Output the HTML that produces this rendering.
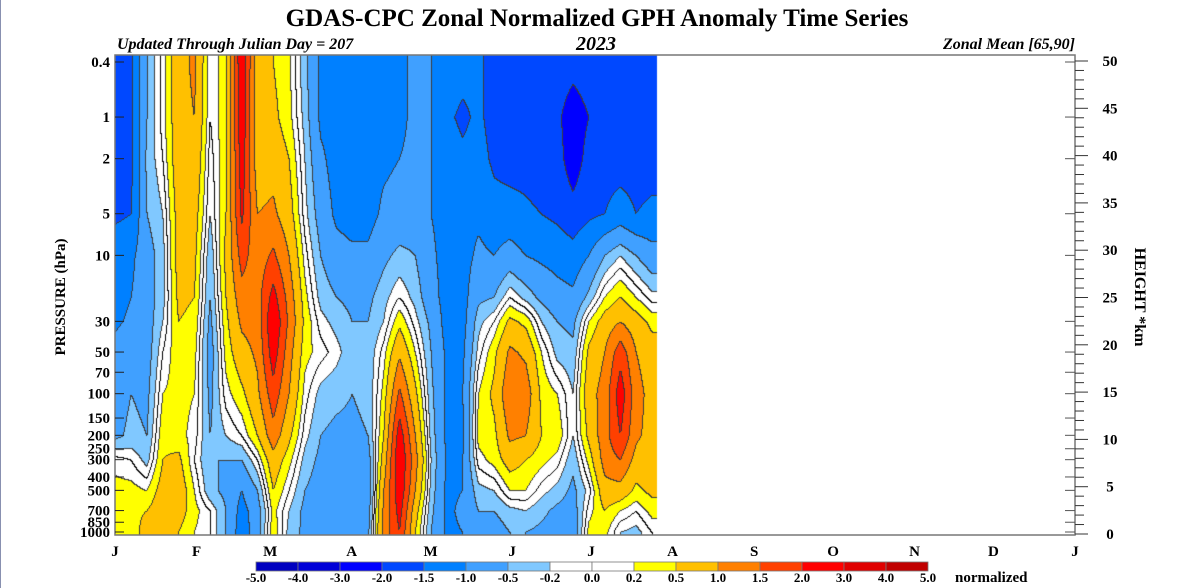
<!DOCTYPE html>
<html><head><meta charset="utf-8">
<style>
html,body{margin:0;padding:0;background:#fff;}
#wrap{position:relative;width:1183px;height:588px;overflow:hidden;font-family:"Liberation Serif",serif;}
canvas,svg{position:absolute;left:0;top:0;}
</style></head>
<body>
<div id="wrap">
<canvas id="cv" width="1183" height="588"></canvas>
<svg id="sv" width="1183" height="588" xmlns="http://www.w3.org/2000/svg">
<line x1="0.5" y1="0" x2="0.5" y2="588" stroke="#8890b0" stroke-width="1"/>
<text x="597" y="26" text-anchor="middle" font-size="25" font-weight="bold">GDAS-CPC Zonal Normalized GPH Anomaly Time Series</text>
<text x="117" y="49" font-size="16" font-weight="bold" font-style="italic">Updated Through Julian Day = 207</text>
<text x="596" y="50" text-anchor="middle" font-size="20" font-weight="bold" font-style="italic">2023</text>
<text x="1075" y="49" text-anchor="end" font-size="16" font-weight="bold" font-style="italic">Zonal Mean [65,90]</text>
<text transform="translate(65,297) rotate(-90)" text-anchor="middle" font-size="15" font-weight="bold">PRESSURE (hPa)</text>
<text transform="translate(1135,297) rotate(90)" text-anchor="middle" font-size="16" font-weight="bold">HEIGHT *km</text>
<text x="955" y="582" font-size="15" font-weight="bold">normalized</text>
<g id="axes"></g>
</svg>
</div>
<script>
// ---- chart data ----
const days = [1,7,13,19,25,31,37,43,49,55,61,67,73,79,85,91,97,103,109,115,121,127,133,139,145,151,157,163,169,175,181,187,193,199,205];
const levels = [0.4,1,2,5,10,20,30,50,100,200,300,500,700,1000];
const pressureTicks = [0.4,1,2,5,10,30,50,70,100,150,200,250,300,400,500,700,850,1000];
const pressureLabels = ["0.4","1","2","5","10","30","50","70","100","150","200","250","300","400","500","700","850","1000"];
const heightTicks = [0,5,10,15,20,25,30,35,40,45,50];
const monthLabels = ["J","F","M","A","M","J","J","A","S","O","N","D","J"];
const monthDays = [1,32,60,91,121,152,182,213,244,274,305,335,366];
const bandEdges = [-5,-4,-3,-2,-1.5,-1,-0.5,-0.2,0,0.2,0.5,1,1.5,2,3,4,5];
const edgeLabels = ["-5.0","-4.0","-3.0","-2.0","-1.5","-1.0","-0.5","-0.2","0.0","0.2","0.5","1.0","1.5","2.0","3.0","4.0","5.0"];
// anomaly per time column, top (0.4 hPa) to bottom (1000 hPa)
const anomaly = [
[-1.7,-1.7,-1.7,-1.6,-1.2,-1.2,-1.1,-0.8,-0.7,-0.6,0.1,0.3,0.3,0.3],
[-1.6,-1.6,-1.6,-1.5,-1.1,-1.0,-0.9,-0.6,-0.5,-0.4,0.0,0.3,0.4,0.3],
[-0.5,-0.5,-0.4,-0.5,-0.7,-0.7,-0.7,-0.7,-0.6,-0.5,-0.3,0.2,0.5,0.7],
[0.1,0.1,0.0,-0.2,-0.3,-0.3,-0.2,0.0,0.2,0.4,0.5,0.7,0.8,0.7],
[0.8,0.8,0.8,0.7,0.7,0.6,0.5,0.4,0.3,0.3,0.6,0.8,0.7,0.5],
[1.1,1.0,0.9,0.7,0.6,0.5,0.4,0.3,0.2,0.1,0.0,0.2,0.3,0.2],
[0.0,0.0,-0.1,-0.2,-0.4,-0.5,-0.6,-0.7,-0.6,-0.5,-0.5,-0.4,0.0,0.0],
[0.4,0.4,0.4,0.5,0.6,0.5,0.4,0.3,0.1,-0.2,-0.5,-0.6,-0.5,-0.5],
[2.5,2.4,2.3,2.1,1.7,1.3,1.1,0.8,0.4,0.0,-0.5,-1.0,-1.2,-1.3],
[0.6,0.6,0.7,1.0,1.2,1.3,1.2,1.1,0.9,0.5,0.0,-0.5,-0.7,-0.7],
[0.5,0.6,0.8,1.1,1.6,2.2,2.5,2.3,1.8,1.3,0.8,0.5,0.3,0.4],
[0.25,0.3,0.5,0.7,1.0,1.3,1.4,1.2,1.0,0.6,0.3,0.0,-0.2,-0.3],
[-0.4,-0.3,-0.2,-0.1,0.1,0.3,0.4,0.3,0.1,-0.1,-0.3,-0.5,-0.6,-0.6],
[-1.1,-1.1,-0.9,-0.7,-0.5,-0.3,-0.1,0.1,-0.3,-0.5,-0.6,-0.7,-0.7,-0.7],
[-1.2,-1.2,-1.2,-1.1,-0.8,-0.5,-0.3,-0.1,-0.4,-0.6,-0.7,-0.8,-0.9,-0.8],
[-1.2,-1.2,-1.2,-1.2,-0.9,-0.6,-0.5,-0.4,-0.5,-0.6,-0.8,-0.9,-1.0,-0.9],
[-1.2,-1.2,-1.2,-1.2,-0.9,-0.6,-0.5,-0.4,-0.4,-0.5,-0.7,-0.8,-0.7,-0.6],
[-1.2,-1.2,-1.1,-0.9,-0.6,-0.3,-0.2,0.1,0.3,0.5,0.7,1.0,1.1,1.2],
[-1.2,-1.2,-1.0,-0.8,-0.4,0.0,0.4,0.9,1.6,2.3,2.5,2.4,2.2,2.0],
[-0.8,-0.8,-0.8,-0.7,-0.5,-0.3,-0.1,0.2,0.6,1.0,1.2,1.0,0.7,0.5],
[-1.0,-1.0,-1.0,-1.0,-0.9,-0.8,-0.6,-0.5,-0.4,-0.3,-0.2,-0.3,-0.4,-0.5],
[-1.2,-1.4,-1.2,-1.2,-1.2,-1.2,-1.2,-1.1,-1.1,-1.1,-1.1,-1.1,-1.1,-1.1],
[-1.3,-1.6,-1.4,-1.2,-1.2,-1.2,-1.2,-1.1,-1.0,-1.1,-1.0,-1.0,-0.9,-1.0],
[-1.4,-1.4,-1.3,-1.1,-0.9,-0.6,-0.3,-0.1,0.2,0.3,0.1,-0.3,-0.5,-0.6],
[-1.7,-1.7,-1.6,-1.3,-1.0,-0.5,0.0,0.4,0.6,0.4,0.3,-0.2,-0.5,-0.7],
[-1.7,-1.8,-1.7,-1.3,-0.8,0.0,0.6,1.1,1.4,1.1,0.7,0.2,-0.3,-0.5],
[-1.7,-1.8,-1.7,-1.4,-1.0,-0.3,0.4,0.9,1.3,1.0,0.5,0.2,-0.2,-0.5],
[-1.7,-1.9,-1.8,-1.5,-1.1,-0.6,-0.2,0.2,0.4,0.5,0.3,-0.1,-0.4,-0.6],
[-1.7,-1.9,-1.8,-1.6,-1.2,-0.8,-0.5,-0.3,0.2,0.4,0.1,-0.3,-0.6,-0.7],
[-1.8,-2.3,-2.3,-1.8,-1.3,-0.9,-0.6,-0.4,-0.2,-0.2,-0.4,-0.6,-0.7,-0.8],
[-1.7,-2.0,-1.8,-1.6,-1.0,-0.4,0.2,0.6,0.8,0.6,0.3,-0.1,0.1,0.3],
[-1.7,-1.8,-1.7,-1.5,-0.5,0.2,0.7,1.0,1.2,1.3,1.2,0.8,0.5,0.3],
[-1.7,-1.7,-1.7,-1.3,-0.2,0.5,1.0,1.8,2.3,2.0,1.5,0.8,0.2,-0.2],
[-1.8,-2.0,-1.7,-1.5,-0.5,0.2,0.7,1.0,1.2,1.1,0.8,0.4,0.0,-0.3],
[-1.7,-2.0,-1.7,-1.4,-0.8,-0.1,0.4,0.7,0.8,0.8,0.8,0.6,0.3,0.0]
];
const lastDay = 207;
const bandColors = ["#0000c0","#0000d8","#0000ff","#0048ff","#0080ff","#40a0ff","#80c8ff","#ffffff","#ffffff","#ffff00","#ffc000","#ff8000","#ff4000","#ff0000","#e00000","#c00000"];

// ---- scales ----
const X0=115, X1=1075, Y0=55, Y1=535;
function xDay(d){return X0+(d-1)*(X1-X0)/365;}
const LT=Math.log10(0.4), LB=Math.log10(1000), YT=62, YB=532;
function yP(p){return YT+(Math.log10(p)-LT)*(YB-YT)/(LB-LT);}
function pFromY(y){return (y-YT)/(YB-YT)*(LB-LT)+LT;}
function yKm(k){return 534-k*(534-61)/50;}
function band(v){for(let i=1;i<bandEdges.length;i++){if(v<bandEdges[i])return i-1;}return bandEdges.length-2;}

// ---- heatmap ----
const cv=document.getElementById('cv'), ctx=cv.getContext('2d');
const xa=Math.round(xDay(1)), xb=Math.round(xDay(lastDay));
const W=xb-xa, H=Y1-Y0;
const logL=levels.map(p=>Math.log10(p));
function interp(d,lp){
  let i=0; if(d<=days[0]){i=0;d=days[0];}
  while(i<days.length-2 && d>days[i+1]) i++;
  let tx=(d-days[i])/(days[i+1]-days[i]); tx=Math.max(0,Math.min(1,tx));
  let j=0; if(lp<logL[0])lp=logL[0]; if(lp>logL[logL.length-1])lp=logL[logL.length-1];
  while(j<logL.length-2 && lp>logL[j+1]) j++;
  let ty=(lp-logL[j])/(logL[j+1]-logL[j]); ty=Math.max(0,Math.min(1,ty));
  const a=anomaly[i][j],b=anomaly[i+1][j],c=anomaly[i][j+1],e=anomaly[i+1][j+1];
  return (a*(1-tx)+b*tx)*(1-ty)+(c*(1-tx)+e*tx)*ty;
}
const bands=new Int16Array(W*H), vals=new Float32Array(W*H);
for(let yy=0;yy<H;yy++){const lp=pFromY(Y0+yy+0.5);
  for(let xx=0;xx<W;xx++){const d=1+(xa+xx+0.5-X0)*365/(X1-X0);
    const v=interp(d,lp); vals[yy*W+xx]=v; bands[yy*W+xx]=band(v);}}
const img=ctx.createImageData(W,H);
function hex(h){return [parseInt(h.substr(1,2),16),parseInt(h.substr(3,2),16),parseInt(h.substr(5,2),16)];}
const rgb=bandColors.map(hex);
for(let k=0;k<W*H;k++){let c=rgb[bands[k]];
  const xx=k%W, yy=(k/W)|0; let edge=false, zero=false;
  if(xx>0 && bands[k]!==bands[k-1]){edge=true; if((vals[k]>=0)!==(vals[k-1]>=0))zero=true;}
  if(yy>0 && bands[k]!==bands[k-W]){edge=true; if((vals[k]>=0)!==(vals[k-W]>=0))zero=true;}
  if(edge) c = zero?[0,0,0]:[60,60,60];
  img.data[k*4]=c[0];img.data[k*4+1]=c[1];img.data[k*4+2]=c[2];img.data[k*4+3]=255;}
ctx.putImageData(img,xa,Y0);

// ---- axes ----
const NS="http://www.w3.org/2000/svg", g=document.getElementById('axes');
function el(tag,attrs,txt){const e=document.createElementNS(NS,tag);for(const k in attrs)e.setAttribute(k,attrs[k]);if(txt!==undefined)e.textContent=txt;g.appendChild(e);return e;}
let e;
e=el('rect',{x:X0,y:Y0,width:X1-X0,height:Y1-Y0,fill:'none',stroke:'#777','stroke-width':1.5});


pressureTicks.forEach((p,i)=>{const y=yP(p);
  e=el('line',{x1:X0,y1:y,x2:X0+9,y2:y,stroke:'#222','stroke-width':1});
  
  
  e=el('line',{x1:X1-10,y1:y,x2:X1,y2:y,stroke:'#555','stroke-width':1});
  
  
  e=el('text',{x:110,y:y+5,'text-anchor':'end','font-size':15,'font-weight':'bold'},pressureLabels[i]);
  
  
});
for(let k=0;k<=50;k++){const y=yKm(k);const major=k%5===0;
  e=el('line',{x1:X1,y1:y,x2:X1+(major?13:9),y2:y,stroke:'#333','stroke-width':1});
  
  }
heightTicks.forEach(k=>{
  e=el('text',{x:1110,y:yKm(k)+5,'text-anchor':'middle','font-size':15,'font-weight':'bold'},String(k));
  
  });
monthLabels.forEach((m,i)=>{
  e=el('text',{x:xDay(monthDays[i]),y:556,'text-anchor':'middle','font-size':15,'font-weight':'bold'},m);
  
  });
// colorbar
const CB0=256, CBW=42;
bandColors.forEach((c,i)=>{
  e=el('rect',{x:CB0+i*CBW,y:562,width:CBW,height:9,fill:c,stroke:'#777','stroke-width':0.8});
  
  });
edgeLabels.forEach((t,i)=>{
  e=el('text',{x:CB0+i*CBW,y:582,'text-anchor':'middle','font-size':13,'font-weight':'bold'},t);
  
  });
</script>
</body></html>
